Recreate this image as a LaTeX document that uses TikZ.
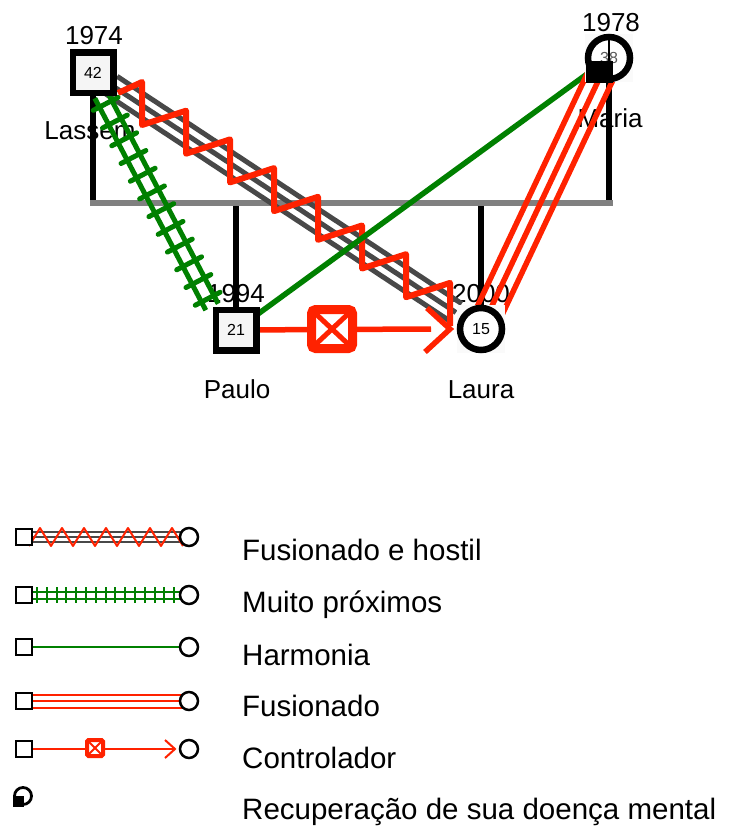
\documentclass[tikz,border=0pt]{standalone}
\usepackage{fontspec}
\setmainfont{Liberation Sans}
\usetikzlibrary{calc,decorations.markings}
\definecolor{gred}{RGB}{255,34,0}
\definecolor{ggreen}{RGB}{0,128,0}
\definecolor{gdark}{RGB}{72,72,72}
\definecolor{gbar}{RGB}{128,128,128}
\pgfdeclarelayer{txt}
\pgfdeclarelayer{lines}
\pgfsetlayers{txt,lines,main}
\begin{document}
\begin{tikzpicture}[x=1pt,y=-1pt,
 male/.style={rectangle,draw=black,line width=6.5pt,minimum size=40.5pt,inner sep=0pt,outer sep=0pt,fill=black!4,font=\fontsize{16}{16}\selectfont},
 female/.style={circle,draw=black,line width=6.5pt,minimum size=42pt,inner sep=0pt,outer sep=0pt,fill=white,font=\fontsize{16}{16}\selectfont},
 fbox/.style={rectangle,minimum size=48pt,inner sep=0pt,outer sep=0pt,fill=black!2},
 lbl/.style={font=\fontsize{26}{30}\selectfont,anchor=base,inner sep=0pt},
 lgtxt/.style={font=\fontsize{29.5}{32}\selectfont,anchor=base west,inner sep=0pt},
 famline/.style={line width=5.5pt,black},
 barline/.style={line width=6pt,gbar},
 hostgray/.style={line width=5pt,gdark},
 zz/.style={line width=6pt,gred,line join=round},
 rail/.style={line width=5pt,ggreen},
 ladderticks/.style={postaction={decorate,decoration={markings,mark=between positions 10pt and -6pt step 20pt with {\draw[ggreen,line width=5pt,line cap=round] (0pt,-14pt) -- (0pt,14pt);}}}},
 harm/.style={line width=5.5pt,ggreen},
 fus/.style={line width=5.5pt,gred},
 ctrl/.style={line width=5.5pt,gred},
 cbox/.style={rectangle,draw=gred,fill=white,line width=9pt,minimum width=41pt,minimum height=39pt,rounded corners=4pt,inner sep=0pt,outer sep=0pt},
 lgm/.style={rectangle,draw=black,line width=2.5pt,minimum size=16pt,inner sep=0pt,outer sep=0pt,fill=white},
 lgf/.style={circle,draw=black,line width=2.5pt,minimum size=18pt,inner sep=0pt,outer sep=0pt,fill=white},
 lgthin/.style={line width=2pt},
 lgcbox/.style={rectangle,draw=gred,fill=white,line width=4pt,minimum size=16pt,rounded corners=1.5pt,inner sep=0pt,outer sep=0pt}
]
\useasboundingbox (0,0) rectangle (728,826);

% ---------- persons ----------
\node[male] (lassem) at (93,73) {42};
\node[male] (paulo) at (236,330) {21};
\node[fbox] (laurabox) at (481,329) {};
\node[female] (laura) at (481,329) {15};
\node[fbox] (mariabox) at (609,58) {};
\node[female,text=black!65] (maria) at (609,58) {38};
\fill[black] ($(maria)+(-23,3)$) rectangle ($(maria)+(4,25)$);
\draw[line width=1.2pt] ($(maria)+(0,-22)$) -- ($(maria)+(0,3)$);

% ---------- labels ----------
\begin{pgfonlayer}{txt}
\node[lbl] (t1974) at (94,45) {1974};
\node[lbl] (tlassem) at (90,140) {Lassem};
\node[lbl] (t1978) at (611,32) {1978};
\node[lbl] (tmaria) at (610,128) {Maria};
\node[lbl] (t1994) at (236,302) {1994};
\node[lbl] (t2000) at (481,302) {2000};
\node[lbl] (tpaulo) at (237,398) {Paulo};
\node[lbl] (tlaura) at (481,398) {Laura};
\end{pgfonlayer}

% ---------- connectors ----------
\begin{pgfonlayer}{lines}
\coordinate (barL) at (90,203);
\coordinate (barR) at (613,203);
\draw[famline] (lassem) -- (lassem |- barL);
\draw[famline] (maria) -- (maria |- barR);
\draw[famline] (paulo |- barL) -- (paulo);
\draw[famline] (laura |- barL) -- (laura);
\draw[barline] (barL) -- (barR);

% fused and hostile
\coordinate (hsA) at ($(lassem)!22pt!(laura)$);
\coordinate (hsB) at ($(laura)!30pt!(lassem)$);
\draw[hostgray] ($(hsA)!10.5pt!90:(hsB)$) -- ($(hsB)!10.5pt!-90:(hsA)$);
\draw[hostgray] (hsA) -- (hsB);
\draw[hostgray] ($(hsA)!10.5pt!-90:(hsB)$) -- ($(hsB)!10.5pt!90:(hsA)$);
\draw[zz] ($(lassem)+(25,20)$) -- ++(24,-11) \foreach \i in {1,...,7}{ -- ++(0,43) -- ++(44,-14.3)} -- ++(0,43);

% very close
\coordinate (ladA) at ($(lassem)+(8,22)$);
\coordinate (ladB) at ($(paulo)+(-24,-23)$);
\draw[rail] ($(ladA)!7pt!90:(ladB)$) -- ($(ladB)!7pt!-90:(ladA)$);
\draw[rail] ($(ladA)!7pt!-90:(ladB)$) -- ($(ladB)!7pt!90:(ladA)$);
\path[ladderticks] (ladA) -- (ladB);

% harmony
\draw[harm] (paulo) -- (maria);

% fused
\draw[fus] ($(laura)!13pt!90:(maria)$) -- ($(maria)!13pt!-90:(laura)$);
\draw[fus] (laura) -- (maria);
\draw[fus] ($(laura)!13pt!-90:(maria)$) -- ($(maria)!13pt!90:(laura)$);

% controlling
\coordinate (ctip) at ($(laura)+(-31,0)$);
\draw[ctrl] (paulo) -- ($(laura)+(-50,0)$);
\draw[ctrl] ($(ctip)+(-23,-21)$) -- (ctip) -- ($(ctip)+(-25,23)$);
\node[cbox] (cb) at (332,329) {};
\draw[gred,line width=5pt] ($(cb.north west)+(4.5,4.5)$) -- ($(cb.south east)+(-4.5,-4.5)$);
\draw[gred,line width=5pt] ($(cb.north east)+(-4.5,4.5)$) -- ($(cb.south west)+(4.5,-4.5)$);
\end{pgfonlayer}

% ---------- legend ----------
\node[lgm] (k1a) at (24,537) {};
\node[lgf] (k1b) at (189,537) {};
\node[lgm] (k2a) at (24,595) {};
\node[lgf] (k2b) at (189,595) {};
\node[lgm] (k3a) at (24,647) {};
\node[lgf] (k3b) at (189,647) {};
\node[lgm] (k4a) at (24,701) {};
\node[lgf] (k4b) at (189,701) {};
\node[lgm] (k5a) at (24,749) {};
\node[lgf] (k5b) at (189,749) {};
\node[circle,draw=black,line width=2.8pt,minimum size=17pt,inner sep=0pt,fill=white] (k6) at (23,796) {};
\fill[black] ($(k6)+(-10.5,0)$) rectangle ($(k6)+(1,10.5)$);
\draw[line width=1pt] ($(k6)+(0,-9)$) -- (k6);

\begin{pgfonlayer}{lines}
\foreach \d in {-5,0,5} \draw[lgthin,gdark] ($(k1a)+(0,\d)$) -- ($(k1b)+(0,\d)$);
\draw[lgthin,gred,line join=round] ($(k1a)+(5,9)$) \foreach \i in {1,...,7}{ -- ++(11,-18) -- ++(11,18)};
\draw[lgthin,ggreen] ($(k2a)+(0,-3.5)$) -- ($(k2b)+(0,-3.5)$);
\draw[lgthin,ggreen] ($(k2a)+(0,3.5)$) -- ($(k2b)+(0,3.5)$);
\foreach \i in {0,...,14} \draw[lgthin,ggreen] ($(k2a)+({13+9.8*\i},-8)$) -- ++(0,16);
\draw[lgthin,ggreen] (k3a) -- (k3b);
\foreach \d in {-6.5,0,6.5} \draw[lgthin,gred] ($(k4a)+(0,\d)$) -- ($(k4b)+(0,\d)$);
\draw[lgthin,gred] (k5a) -- ($(k5b)+(-14,0)$);
\draw[lgthin,gred] ($(k5b)+(-24,-9)$) -- ($(k5b)+(-14,0)$) -- ($(k5b)+(-24,9)$);
\node[lgcbox] (k5c) at (95,748) {};
\draw[gred,line width=2pt] ($(k5c.north west)+(2,2)$) -- ($(k5c.south east)+(-2,-2)$);
\draw[gred,line width=2pt] ($(k5c.north east)+(-2,2)$) -- ($(k5c.south west)+(2,-2)$);
\end{pgfonlayer}

\node[lgtxt] (g1) at (242,560) {Fusionado e hostil};
\node[lgtxt] (g2) at (242,612) {Muito próximos};
\node[lgtxt] (g3) at (242,665) {Harmonia};
\node[lgtxt] (g4) at (242,716) {Fusionado};
\node[lgtxt] (g5) at (242,768) {Controlador};
\node[lgtxt] (g6) at (242,819) {Recuperação de sua doença mental};
\end{tikzpicture}
\end{document}
